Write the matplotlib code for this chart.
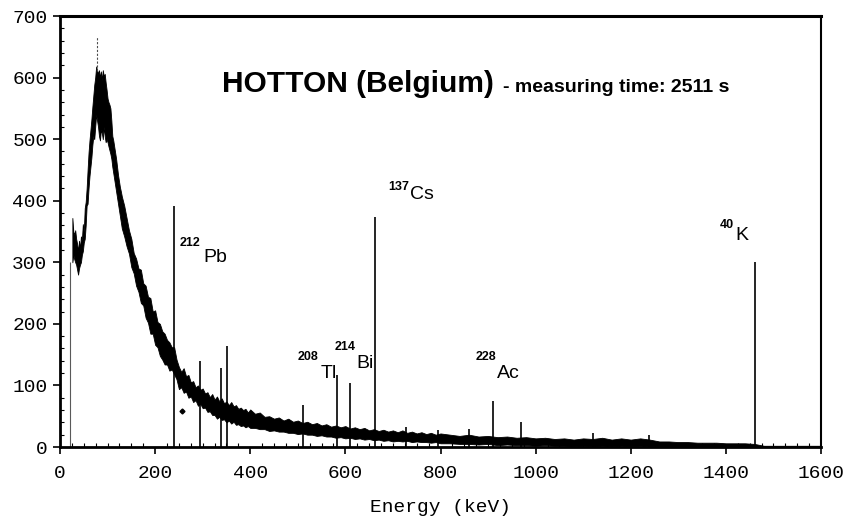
import matplotlib
matplotlib.use("Agg")
import matplotlib.pyplot as plt
from matplotlib.ticker import MultipleLocator

# ---------------- data ----------------
# continuum band of the spectrum: energy (keV), upper and lower envelope (counts)
band_energy = [26, 28, 30, 32, 34, 36, 38, 40, 42, 44, 46, 48, 50, 52, 54, 56,
               58, 60, 62, 64, 66, 68, 70, 72, 74, 76, 78, 80, 82, 84, 86, 88, 90, 92, 94, 96, 98,
               100, 102, 104, 106, 108, 110, 112, 114, 116, 118, 120, 122, 124, 126, 128, 130,
               135, 140, 145, 150, 155, 160, 165, 170, 175, 180, 185, 190, 195, 200, 205, 210,
               215, 220, 225, 230, 235, 240, 245, 250, 255, 260, 265, 270, 275, 280, 285, 290,
               295, 300, 305, 310, 315, 320, 325, 330, 335, 340, 345, 350, 355, 360, 365, 370,
               375, 380, 385, 390, 395, 400,
               410, 420, 430, 440, 450, 460, 470, 480, 490, 500, 510, 520, 530, 540, 550, 560,
               570, 580, 590, 600, 610, 620, 630, 640, 650, 660, 670, 680, 690, 700, 710, 720,
               730, 740, 750, 760, 770, 780, 790, 800,
               820, 840, 860, 880, 900, 920, 940, 960, 980, 1000, 1020, 1040, 1060, 1080, 1100,
               1120, 1140, 1160, 1180, 1200, 1220, 1240, 1260, 1280, 1300, 1320, 1340, 1360,
               1380, 1400, 1420, 1440, 1460, 1480, 1500, 1520, 1540, 1560, 1580, 1600]
band_high = [372, 350, 345, 352, 338, 330, 318, 335, 322, 342, 336, 362, 350, 388, 398, 420,
             450, 478, 498, 515, 532, 552, 570, 588, 600, 618, 612, 606, 612, 600, 610, 596, 612, 602, 606, 592, 580,
             566, 560, 556, 550, 530, 505, 498, 488, 478, 468, 455, 442, 432, 422, 415, 407,
             392, 372, 352, 338, 315, 306, 290, 288, 266, 262, 244, 242, 220, 222, 203, 200,
             188, 184, 174, 170, 162, 162, 142, 130, 122, 128, 115, 117, 105, 107, 97, 100,
             93, 95, 87, 89, 81, 86, 77, 82, 74, 79, 71, 74, 68, 73, 66, 68,
             62, 64, 60, 62, 56, 61,
             54, 56, 49, 50, 46, 48, 43, 46, 41, 43, 39, 41, 37, 39, 35, 37,
             33, 35, 32, 34, 30, 32, 29, 31, 27, 29, 26, 28, 25, 27, 24, 27,
             23, 25, 22, 24, 21, 23, 20, 22,
             20, 18, 20, 17, 18, 16, 17, 15, 16, 14, 15, 13, 14, 12, 14,
             13, 15, 12, 14, 12, 14, 12, 9, 9, 8, 8, 7, 7,
             7, 6, 6, 6, 5, 2, 2, 2, 2, 2, 2, 2]
band_low = [300, 312, 305, 300, 296, 288, 280, 290, 296, 300, 312, 318, 332, 338, 360, 392,
            395, 420, 440, 455, 470, 490, 505, 500, 520, 540, 530, 520, 505, 498, 515, 510, 500, 520, 505, 495, 500,
            495, 488, 482, 476, 468, 455, 445, 435, 425, 415, 405, 395, 385, 375, 365, 355,
            342, 326, 314, 292, 282, 262, 252, 234, 230, 210, 202, 184, 184, 166, 162, 148,
            142, 134, 134, 124, 126, 118, 110, 94, 97, 88, 90, 80, 82, 73, 76, 67,
            70, 63, 64, 57, 58, 52, 52, 46, 49, 44, 45, 40, 43, 38, 41, 36,
            37, 34, 35, 32, 34, 31,
            31, 29, 29, 26, 27, 25, 25, 23, 23, 21, 22, 20, 20, 18, 19, 17,
            17, 15, 16, 14, 15, 13, 14, 12, 13, 11, 12, 10, 11, 9, 10, 9,
            10, 8, 9, 8, 8, 7, 8, 6,
            6, 5, 5, 4, 5, 3, 4, 3, 3, 2, 3, 2, 2, 1, 2,
            1, 2, 1, 2, 1, 2, 1, 1, 0, 1, 0, 1, 0,
            0, 0, 0, 0, 0, 0, 0, 0, 0, 0, 0, 0]

# sharp gamma lines: energy (keV) and top (counts)
line_energy = [240, 295, 339, 352, 511, 583, 609, 662, 727, 795, 860, 911, 969, 1120, 1238, 1461]
line_top = [391, 139, 128, 164, 69, 117, 104, 373, 33, 28, 29, 74, 41, 23, 20, 301]

# low-energy threshold line and dashed X-ray spike
edge_energy, edge_top = 22, 300
xray_energy, xray_low, xray_top = 78, 610, 667
stray_energy, stray_count = 257, 58

# nuclide labels: mass number, symbol, position (keV, counts)
label_mass = ["212", "137", "40", "208", "214", "228"]
label_symbol = ["Pb", "Cs", "K", "Tl", "Bi", "Ac"]
label_x = [252, 690, 1388, 500, 578, 873]
label_y = [326, 418, 356, 142, 158, 142]
symbol_x = [301, 736, 1421, 547, 624, 919]
symbol_y = [301, 402, 337, 112, 129, 112]

x_ticks = [0, 200, 400, 600, 800, 1000, 1200, 1400, 1600]
y_ticks = [0, 100, 200, 300, 400, 500, 600, 700]

# ---------------- drawing ----------------
fig = plt.figure(figsize=(8.56, 5.23), dpi=100)
ax = fig.add_axes([60 / 856, 76 / 523, 761 / 856, 431 / 523])

ax.fill_between(band_energy, band_low, band_high, color="black", linewidth=0.6, edgecolor="black")
ax.vlines(line_energy, 0, line_top, color="black", linewidth=1.2)
ax.vlines([edge_energy], 0, [edge_top], color="0.35", linewidth=0.8)
ax.vlines([xray_energy], xray_low, xray_top, color="0.3", linewidth=0.8, linestyles=(0, (2, 1.5)))
ax.plot([stray_energy], [stray_count], marker="D", markersize=2.5, color="black")

sans = "Liberation Sans"
for m, s, lx, ly, sx, sy in zip(label_mass, label_symbol, label_x, label_y, symbol_x, symbol_y):
    ax.text(lx, ly, m, fontsize=9, fontweight="bold", family=sans, ha="left", va="baseline")
    ax.text(sx, sy, s, fontsize=14, family=sans, ha="left", va="baseline")

ax.text(341, 576, "HOTTON (Belgium)", fontsize=21.5, fontweight="bold", family=sans,
        ha="left", va="baseline")
ax.text(931, 576, "- measuring time: 2511 s", fontsize=14, fontweight="bold", family=sans,
        ha="left", va="baseline")

ax.set_xlim(0, 1600)
ax.set_ylim(0, 700)
ax.set_xticks(x_ticks)
ax.set_yticks(y_ticks)
ax.xaxis.set_minor_locator(MultipleLocator(25))
ax.yaxis.set_minor_locator(MultipleLocator(20))
mono = "Liberation Mono"
ax.set_xticklabels([str(v) for v in x_ticks], family=mono, fontsize=14)
ax.set_yticklabels([str(v) for v in y_ticks], family=mono, fontsize=14)
ax.tick_params(axis="both", which="major", direction="out", length=5, width=1.2, pad=8)
ax.tick_params(axis="both", which="minor", direction="in", length=3, width=0.8)
ax.tick_params(axis="y", which="major", pad=4)
ax.set_xlabel("Energy (keV)", family=mono, fontsize=14, labelpad=12)

ax.spines["top"].set_linewidth(2.2)
ax.spines["left"].set_linewidth(2.0)
ax.spines["bottom"].set_linewidth(2.0)
ax.spines["right"].set_linewidth(1.5)

fig.savefig("out.png", dpi=100)
